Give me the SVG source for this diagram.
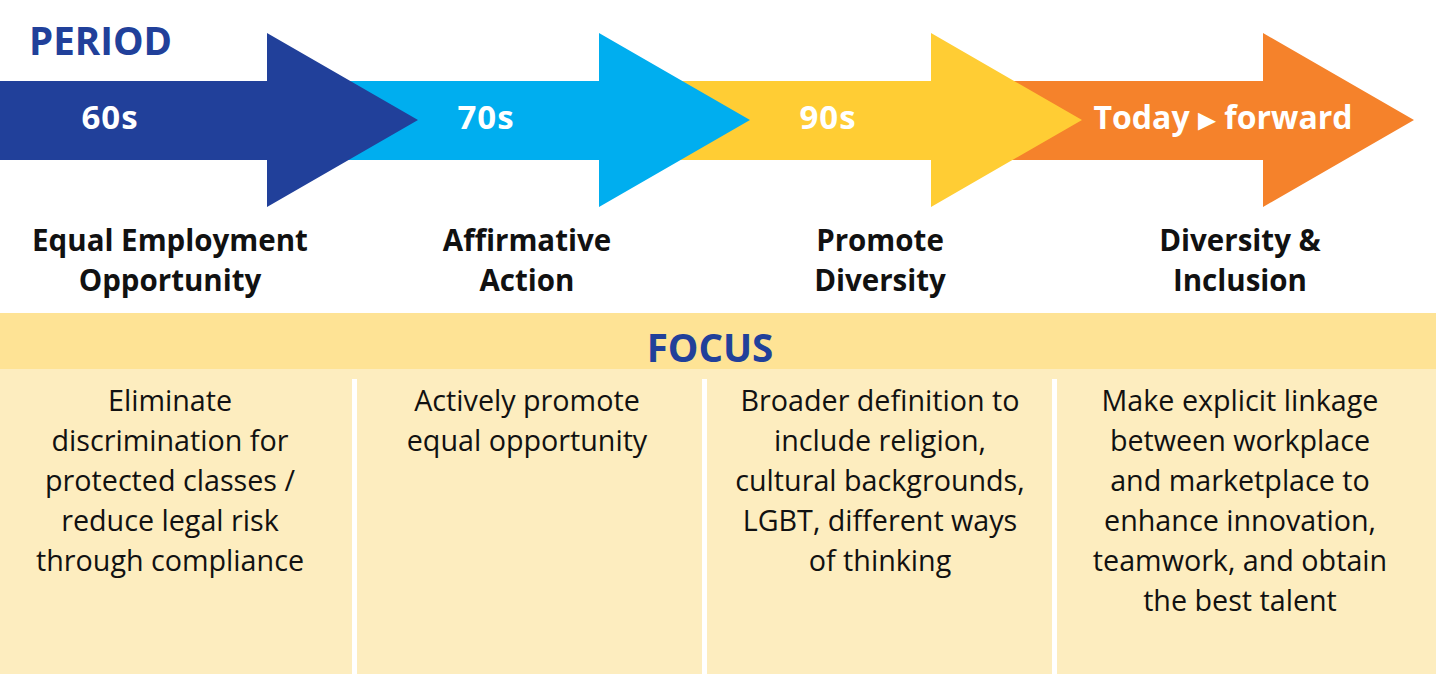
<svg xmlns="http://www.w3.org/2000/svg" width="1436" height="674" viewBox="0 0 1436 674">
<style>
.lbl{font-family:"Open Sans","Noto Sans",sans-serif;font-weight:700;font-size:29.5px;fill:#111;text-anchor:middle}
.per{font-family:"Open Sans","Noto Sans",sans-serif;font-weight:700;font-size:33px;letter-spacing:1px;fill:#fff;text-anchor:middle}
.body{font-family:"Open Sans","Noto Sans",sans-serif;font-weight:400;font-size:28.7px;fill:#111;text-anchor:middle}
.head{font-family:"Open Sans","Noto Sans",sans-serif;font-weight:700;font-size:38.5px;fill:#21409A}
</style>
<rect width="1436" height="674" fill="#fff"/>
<text class="head" x="29" y="55">PERIOD</text>
<g id="arrow-today"><polygon points="1010,81 1263,81 1263,33 1414,120 1263,207 1263,160 1010,160" fill="#F5822B"/></g>
<g id="arrow-90s"><polygon points="680,81 931,81 931,33 1082,120 931,207 931,160 680,160" fill="#FFCD34"/></g>
<g id="arrow-70s"><polygon points="340,81 599,81 599,33 750,120 599,207 599,160 340,160" fill="#00AEEF"/></g>
<g id="arrow-60s"><polygon points="0,81 267,81 267,33 418,120 267,207 267,160 0,160" fill="#21409A"/></g>
<text class="per" x="110" y="129">60s</text>
<text class="per" x="486" y="129">70s</text>
<text class="per" x="828" y="129">90s</text>
<text class="per" x="1223" y="129" style="letter-spacing:0;font-size:32px">Today <tspan font-family="DejaVu Sans" font-size="36" dy="2">▸</tspan><tspan dy="-2"> forward</tspan></text>
<g id="labels">
<text class="lbl" x="170" y="251">Equal Employment</text>
<text class="lbl" x="170" y="291">Opportunity</text>
<text class="lbl" x="527" y="251">Affirmative</text>
<text class="lbl" x="527" y="291">Action</text>
<text class="lbl" x="880" y="251">Promote</text>
<text class="lbl" x="880" y="291">Diversity</text>
<text class="lbl" x="1240" y="251">Diversity &amp;</text>
<text class="lbl" x="1240" y="291">Inclusion</text>
</g>
<rect x="0" y="313" width="1436" height="56" fill="#FEE395"/>
<rect x="0" y="369" width="1436" height="305" fill="#FDEDBF"/>
<text class="head" x="710" y="362" text-anchor="middle">FOCUS</text>
<g fill="#fff">
<rect x="352" y="379" width="5" height="295"/>
<rect x="702" y="379" width="5" height="295"/>
<rect x="1052" y="379" width="5" height="295"/>
</g>
<g id="focus-60s">
<text class="body" x="170" y="411">Eliminate</text>
<text class="body" x="170" y="451">discrimination for</text>
<text class="body" x="170" y="491">protected classes /</text>
<text class="body" x="170" y="531">reduce legal risk</text>
<text class="body" x="170" y="571">through compliance</text>
</g>
<g id="focus-70s">
<text class="body" x="527" y="411">Actively promote</text>
<text class="body" x="527" y="451">equal opportunity</text>
</g>
<g id="focus-90s">
<text class="body" x="880" y="411">Broader definition to</text>
<text class="body" x="880" y="451">include religion,</text>
<text class="body" x="880" y="491">cultural backgrounds,</text>
<text class="body" x="880" y="531">LGBT, different ways</text>
<text class="body" x="880" y="571">of thinking</text>
</g>
<g id="focus-today">
<text class="body" x="1240" y="411">Make explicit linkage</text>
<text class="body" x="1240" y="451">between workplace</text>
<text class="body" x="1240" y="491">and marketplace to</text>
<text class="body" x="1240" y="531">enhance innovation,</text>
<text class="body" x="1240" y="571">teamwork, and obtain</text>
<text class="body" x="1240" y="611">the best talent</text>
</g>
</svg>
